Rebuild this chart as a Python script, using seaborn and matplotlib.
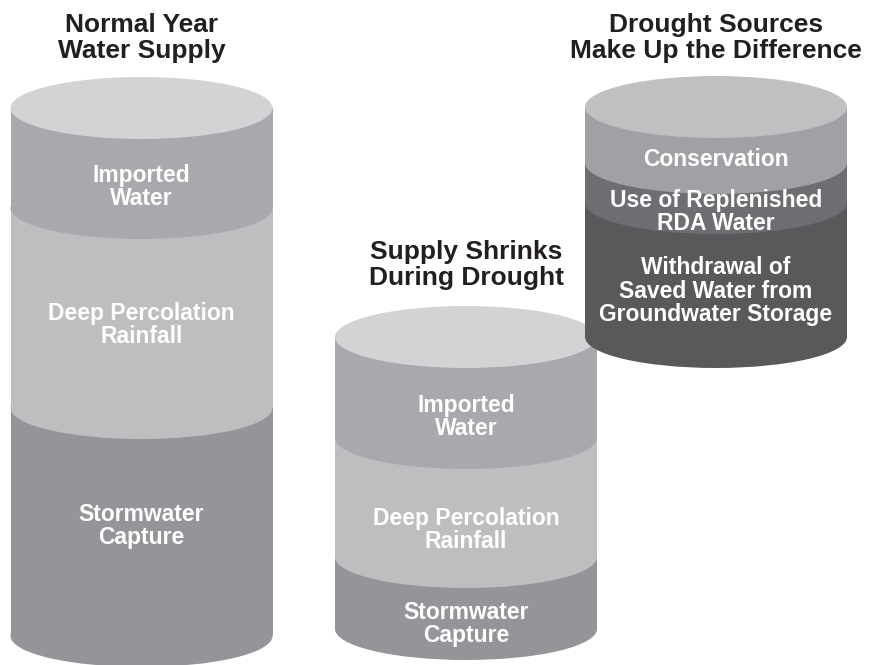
import numpy as np
import matplotlib
matplotlib.use("Agg")
import matplotlib.pyplot as plt
from matplotlib.patches import Ellipse
import seaborn as sns

# chart data (relative volumes)
titles = ["Normal Year\nWater Supply",
          "Supply Shrinks\nDuring Drought",
          "Drought Sources\nMake Up the Difference"]
supply_layers = ["Imported\nWater", "Deep Percolation\nRainfall", "Stormwater\nCapture"]
normal_values = [100, 200, 228]
drought_values = [101, 119, 72]
source_layers = ["Conservation", "Use of Replenished\nRDA Water",
                 "Withdrawal of\nSaved Water from\nGroundwater Storage"]
source_values = [56, 40, 134]

supply_colors = ["#a7a9ac", "#bcbec0", "#939598"]
source_colors = ["#a0a1a4", "#6d6e71", "#58595b"]
cap_colors = ["#d1d3d4", "#d1d3d4", "#bfc0c2"]

# layout, in pixels
centers = [141.5, 466, 716]
width = 262
tops = [108, 337, 107]
ry = 31
title_y = [38, 265, 38]
label_y = [[187, 325, 526], [417, 530, 624], [159, 212, 291]]

sns.set_theme(style="white")
plt.rcParams["font.family"] = ["Liberation Sans", "DejaVu Sans"]

fig = plt.figure(figsize=(8.72, 6.65), dpi=100)
ax = fig.add_axes([0, 0, 1, 1])
ax.set_xlim(0, 872)
ax.set_ylim(665, 0)
ax.axis("off")

z = [1]


def cylinder(cx, top, values, colors, cap, labels, ly, title, ty):
    edges = np.concatenate([[top], top + np.cumsum(values)])
    # bottom layer first so each layer above covers the bulge below it
    for i in reversed(range(len(values))):
        ax.bar(cx, values[i], width=width, bottom=edges[i], color=colors[i],
               linewidth=0, zorder=z[0])
        z[0] += 1
        ax.add_patch(Ellipse((cx, edges[i + 1]), width, 2 * ry, facecolor=colors[i],
                             linewidth=0, zorder=z[0]))
        z[0] += 1
    ax.add_patch(Ellipse((cx, top), width, 2 * ry, facecolor=cap, linewidth=0, zorder=z[0]))
    z[0] += 1
    for lab, y in zip(labels, ly):
        ax.text(cx, y, lab, color="white", fontsize=16.5, fontweight="bold",
                ha="center", va="center", linespacing=1.02, zorder=z[0])
    ax.text(cx, ty, title, color="#231f20", fontsize=19, fontweight="bold",
            ha="center", va="center", linespacing=1.15, zorder=z[0])
    z[0] += 1


cylinder(centers[0], tops[0], normal_values, supply_colors, cap_colors[0],
         supply_layers, label_y[0], titles[0], title_y[0])
cylinder(centers[1], tops[1], drought_values, supply_colors, cap_colors[1],
         supply_layers, label_y[1], titles[1], title_y[1])
cylinder(centers[2], tops[2], source_values, source_colors, cap_colors[2],
         source_layers, label_y[2], titles[2], title_y[2])

fig.savefig("out.png", dpi=100)
